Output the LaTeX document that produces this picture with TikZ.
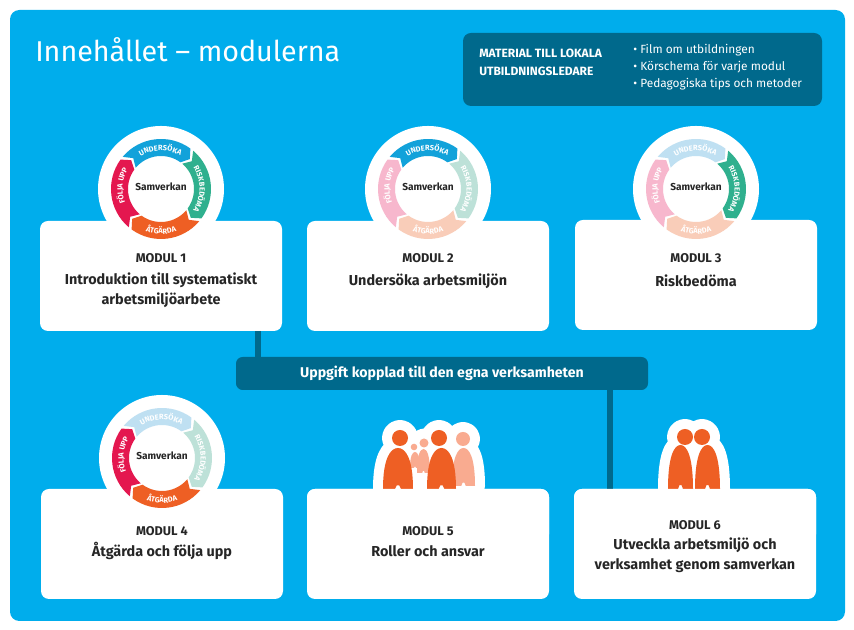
\documentclass[tikz,border=0pt]{standalone}
\usepackage{fontspec}
\setmainfont{Fira Sans}
\usepackage{tikz}
\usetikzlibrary{positioning,decorations.text}
\definecolor{botten}{HTML}{00ADEC}
\definecolor{mork}{HTML}{00698C}
\definecolor{under}{HTML}{12A2DA}
\definecolor{risk}{HTML}{2FB08E}
\definecolor{atg}{HTML}{EE5F24}
\definecolor{folj}{HTML}{E4174F}
\definecolor{underl}{HTML}{BFE0F2}
\definecolor{riskl}{HTML}{BDE1D8}
\definecolor{atgl}{HTML}{F9CDB9}
\definecolor{foljl}{HTML}{F7B7CD}
\definecolor{figl}{HTML}{F9AB90}

% one arrow of the ring: start angle, colour
\newcommand{\bage}[2]{%
  \fill[#2] (#1:50) arc[start angle=#1,end angle=#1-86,radius=50] -- (#1-94:41.5)
    -- (#1-86:33) arc[start angle=#1-86,end angle=#1,radius=33] -- (#1-8:41.5) -- cycle;}
% the ring: centre, four colours
\newcommand{\cykel}[5]{%
  \begin{scope}[shift={(#1)}]
    \bage{140}{#2}
    \bage{50}{#3}
    \bage{-40}{#4}
    \bage{-130}{#5}
    \path[ringtext={UNDERSÖKA}] (137:38.5) arc[start angle=137,end angle=45,radius=38.5];
    \path[ringtext={RISKBEDÖMA}] (47:38.5) arc[start angle=47,end angle=-47,radius=38.5];
    \path[ringtext={ÅTGÄRDA}] (-132:45) arc[start angle=-132,end angle=-48,radius=45];
    \path[ringtext={FÖLJA UPP}] (-140:38.5) arc[start angle=220,end angle=130,radius=38.5];
  \end{scope}}
% a person: body x, bottom, width, height, head x, head y, head radius, style
\newcommand{\figur}[8]{%
  \path[#8] (#1-#3/2,#2) .. controls (#1-#3/2,#2+#4*.75) and (#1-#3*.25,#2+#4) .. (#1,#2+#4)
    .. controls (#1+#3*.25,#2+#4) and (#1+#3/2,#2+#4*.75) .. (#1+#3/2,#2)
    -- (#1+#3*.1,#2) -- (#1+#3*.04,#2+#4*.09) -- (#1-#3*.04,#2+#4*.09) -- (#1-#3*.1,#2) -- cycle
    (#5,#6) circle[radius=#7];}

\begin{document}
\begin{tikzpicture}[x=.75pt,y=.75pt,
  kort/.style={fill=white,rounded corners=6pt,minimum width=181.5pt,minimum height=82.5pt,inner sep=0pt},
  skiva/.style={fill=white,circle,minimum size=94.5pt,inner sep=0pt},
  modul/.style={font=\fontsize{9.5}{11}\selectfont\bfseries,text=black!85},
  rubrik/.style={font=\fontsize{10.8}{15}\selectfont\bfseries,text=black!85,align=center},
  centrum/.style={font=\fontsize{7.6}{9}\selectfont\bfseries,text=black!85},
  ringtext/.style={decorate,decoration={text along path,text align=center,
    text={|\fontsize{5.6}{6}\selectfont\bfseries\color{white}|#1}}},
  morklin/.style={draw=mork,line width=4.5pt},
  halo/.style={fill=white,draw=white,line width=15pt,line join=round},
  figa/.style={fill=atg},
  figb/.style={fill=figl}
]
\useasboundingbox (0,0) rectangle (854,630);
\node[fill=botten,rounded corners=7pt,minimum width=626.25pt,minimum height=458.25pt,inner sep=0pt] (bakgrund) at (427.5,314.5) {};

\node[anchor=west,text=white,inner sep=0pt,font=\fontsize{21.5}{26}\selectfont] (titel) at (35,580) {Innehållet – modulerna};
\node[fill=mork,rounded corners=6pt,minimum width=269.25pt,minimum height=54.75pt,inner sep=0pt] (material) at (642.5,560.5) {};
\node[anchor=west,text=white,inner sep=0pt,align=left,font=\fontsize{9}{13.6}\selectfont\bfseries] (materialtext) at (479,568) {MATERIAL TILL LOKALA\\UTBILDNINGSLEDARE};
\node[anchor=west,text=white,inner sep=0pt,align=left,font=\fontsize{8.9}{12.8}\selectfont] (tips) at (633,563) {\textbullet\ Film om utbildningen\\\textbullet\ Körschema för varje modul\\\textbullet\ Pedagogiska tips och metoder};

% lines to the bar
\node[fill=mork,rounded corners=5pt,minimum width=309pt,minimum height=24.75pt,inner sep=0pt] (uppgift) at (442,256.5) {};

% discs and cards
\node[skiva] (skiva1) at (161,441) {};
\node[skiva] (skiva2) at (428,441) {};
\node[skiva] (skiva3) at (696,441) {};
\node[skiva] (skiva4) at (162,172) {};
\node[kort] (modul1) at (161,354) {};
\node[kort] (modul2) at (428,354) {};
\node[kort] (modul3) at (696,355) {};
\node[kort] (modul4) at (162,86) {};
\node[kort] (modul5) at (428,86) {};
\node[kort] (modul6) at (695,86) {};
\coordinate (ner1) at (258,299);
\coordinate (ner2) at (610,141);
\draw[morklin] (ner1) -- (ner1 |- uppgift.north);
\draw[morklin] (ner2) -- (ner2 |- uppgift.south);
\node[text=white,font=\fontsize{10.6}{12}\selectfont\bfseries] (uppgifttext) at (uppgift) {Uppgift kopplad till den egna verksamheten};

% rings
\cykel{161,441}{under}{risk}{atg}{folj}
\cykel{428,441}{under}{riskl}{atgl}{foljl}
\cykel{696,441}{underl}{risk}{atgl}{foljl}
\cykel{162,172}{underl}{riskl}{atg}{folj}
\node[centrum] (samverkan1) at (161,443.5) {Samverkan};
\node[centrum] (samverkan2) at (428,443.5) {Samverkan};
\node[centrum] (samverkan3) at (696,443.5) {Samverkan};
\node[centrum] (samverkan4) at (162,174.5) {Samverkan};

% people
\figur{463.5}{144}{23}{38}{463}{191}{7}{halo}
\figur{441.5}{141}{29}{41}{439}{192}{8}{halo}
\figur{398}{141}{30}{41}{400}{192}{8}{halo}
\figur{423.5}{157}{13}{24}{424}{187}{4.5}{halo}
\figur{680.5}{141}{25}{44}{685}{193}{8}{halo}
\figur{707.5}{141}{25}{44}{702}{193}{8}{halo}
\figur{463.5}{144}{23}{38}{463}{191}{7}{figb}
\figur{415}{162}{10}{16}{414}{183}{3.3}{figb}
\figur{423.5}{157}{13}{24}{424}{187}{4.5}{figb}
\figur{398}{141}{30}{41}{400}{192}{8}{figa}
\figur{441.5}{141}{29}{41}{439}{192}{8}{figa}
\figur{680.5}{141}{25}{44}{685}{193}{8}{figa}
\figur{707.5}{141}{25}{44}{702}{193}{8}{figa}
\node[kort,minimum height=40pt,anchor=north] (lock5) at (modul5.north) {};
\node[kort,minimum height=40pt,anchor=north] (lock6) at (modul6.north) {};

\node[modul] (namn1) at (161,372) {MODUL 1};
\node[rubrik] (text1) at (161,340) {Introduktion till systematiskt\\arbetsmiljöarbete};
\node[modul] (namn2) at (428,372) {MODUL 2};
\node[rubrik] (text2) at (428,349) {Undersöka arbetsmiljön};
\node[modul] (namn3) at (696,372) {MODUL 3};
\node[rubrik] (text3) at (696,349) {Riskbedöma};
\node[modul] (namn4) at (162,99) {MODUL 4};
\node[rubrik] (text4) at (162,79) {Åtgärda och följa upp};
\node[modul] (namn5) at (428,99) {MODUL 5};
\node[rubrik] (text5) at (428,79) {Roller och ansvar};
\node[modul] (namn6) at (695,105) {MODUL 6};
\node[rubrik] (text6) at (695,75) {Utveckla arbetsmiljö och\\verksamhet genom samverkan};
\end{tikzpicture}
\end{document}
